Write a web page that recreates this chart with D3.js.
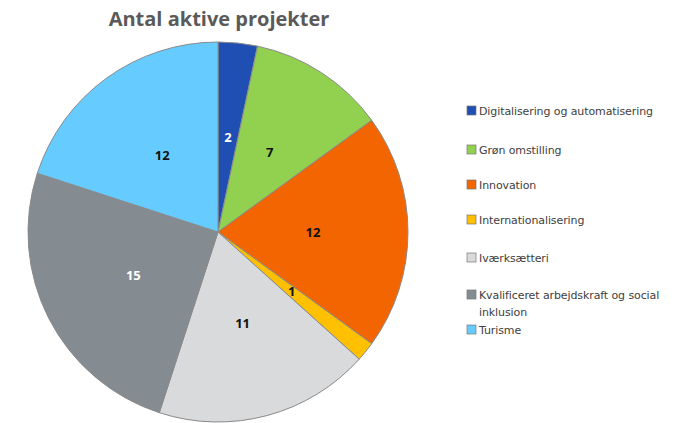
<!DOCTYPE html>
<html>
<head>
<meta charset="utf-8">
<script src="https://cdn.jsdelivr.net/npm/d3@7"></script>
<style>
body{margin:0;background:#fff;}
svg{display:block;font-family:"Open Sans","Noto Sans",sans-serif;}
</style>
</head>
<body>
<svg id="chart" width="700" height="423"></svg>
<script>
// data
var categories = ["Digitalisering og automatisering", "Grøn omstilling", "Innovation",
	"Internationalisering", "Iværksætteri", "Kvalificeret arbejdskraft og social inklusion", "Turisme"];
var values = [2, 7, 12, 1, 11, 15, 12];
var colors = ["#1f4fb3", "#92d050", "#f26500", "#ffc000", "#d9dadc", "#858c91", "#66ccff"];
var labelColors = ["#fff", "#111", "#111", "#111", "#111", "#fff", "#111"];

var svg = d3.select("#chart");
var cx = 218, cy = 232, radius = 190;

// titel
svg.append("text")
	.attr("x", 219)
	.attr("y", 26)
	.attr("text-anchor", "middle")
	.attr("font-size", 20)
	.attr("font-weight", "bold")
	.attr("fill", "#5a5a5a")
	.text("Antal aktive projekter");

var pie = d3.pie().sort(null).value(function(d){ return d; });
var arc = d3.arc().innerRadius(0).outerRadius(radius);
var arcs = pie(values);

var g = svg.append("g").attr("transform", "translate(" + cx + "," + cy + ")");

g.selectAll("path")
	.data(arcs)
	.enter()
	.append("path")
	.attr("d", arc)
	.attr("fill", function(d, i){ return colors[i]; })
	.attr("stroke", "#8a8a8a")
	.attr("stroke-width", 1);

g.selectAll("text")
	.data(arcs)
	.enter()
	.append("text")
	.attr("transform", function(d){ return "translate(" + arc.centroid(d) + ")"; })
	.attr("text-anchor", "middle")
	.attr("dy", "0.35em")
	.attr("font-size", 13)
	.attr("font-weight", "bold")
	.attr("fill", function(d, i){ return labelColors[i]; })
	.text(function(d){ return d.data; });

// legend
var legendY = [111, 150, 185, 220, 258, 295, 330];
var legend = svg.append("g").attr("transform", "translate(467,0)");

var items = legend.selectAll("g")
	.data(categories)
	.enter()
	.append("g")
	.attr("transform", function(d, i){ return "translate(0," + legendY[i] + ")"; });

items.append("rect")
	.attr("x", 0)
	.attr("y", -5)
	.attr("width", 9)
	.attr("height", 9)
	.attr("fill", function(d, i){ return colors[i]; })
	.attr("stroke", "#777")
	.attr("stroke-width", 0.7);

items.append("text")
	.attr("x", 12)
	.attr("y", 4)
	.attr("font-family", "'DejaVu Sans', sans-serif")
	.attr("font-size", 11)
	.attr("letter-spacing", -0.1)
	.attr("fill", "#404040")
	.each(function(d){
		var t = d3.select(this);
		if (d.indexOf("social") > 0) {
			t.append("tspan").attr("x", 12).text("Kvalificeret arbejdskraft og social");
			t.append("tspan").attr("x", 12).attr("dy", 17).text("inklusion");
		} else {
			t.text(d);
		}
	});
</script>
</body>
</html>
